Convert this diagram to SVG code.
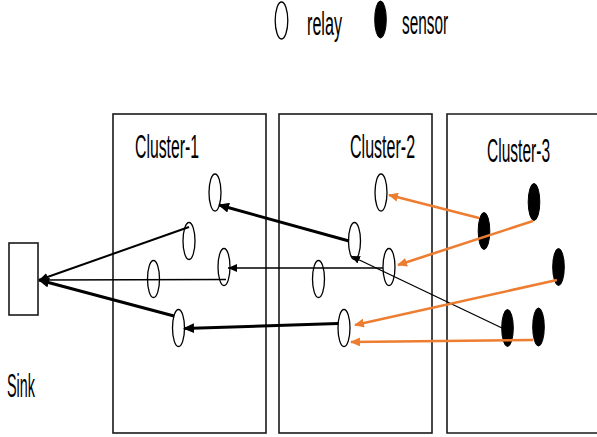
<svg xmlns="http://www.w3.org/2000/svg" width="597" height="437" viewBox="0 0 597 437">
<defs>
<style>
.lbl{font-family:"Liberation Sans",Arial,sans-serif;font-size:33px;fill:#000}
.box{fill:none;stroke:#1a1a1a;stroke-width:1.6}
.relay{fill:#fff;stroke:#000;stroke-width:1.3}
.sensor{fill:#000;stroke:#000;stroke-width:1}
.k3{stroke:#000;stroke-width:3;fill:none}
.k2{stroke:#000;stroke-width:2;fill:none}
.k1{stroke:#000;stroke-width:1.3;fill:none}
.or{stroke:#ED7D31;stroke-width:2.6;fill:none}
</style>
<marker id="ab" markerUnits="userSpaceOnUse" markerWidth="11" markerHeight="10" refX="10" refY="5" orient="auto">
<path d="M0,0 L11,5 L0,10 z" fill="#000"/>
</marker>
<marker id="as" markerUnits="userSpaceOnUse" markerWidth="9" markerHeight="8" refX="9" refY="4" orient="auto">
<path d="M0,0 L9,4 L0,8 z" fill="#000"/>
</marker>
<marker id="ao" markerUnits="userSpaceOnUse" markerWidth="10" markerHeight="9" refX="9" refY="4.5" orient="auto">
<path d="M0,0 L10,4.5 L0,9 z" fill="#ED7D31"/>
</marker>
</defs>
<rect width="597" height="437" fill="#fff"/>

<g id="legend">
<ellipse class="relay" cx="281.5" cy="20.5" rx="6.3" ry="18.5"/>
<text class="lbl" transform="translate(307,35) scale(0.49,1)">relay</text>
<ellipse class="sensor" cx="380.5" cy="19.5" rx="5.8" ry="18.5"/>
<text class="lbl" transform="translate(402,34) scale(0.465,1)">sensor</text>
</g>

<g id="sink">
<rect class="box" x="9" y="243" width="29" height="72"/>
<text class="lbl" transform="translate(7,397) scale(0.436,1)">Sink</text>
</g>

<g id="cluster-1">
<rect class="box" x="113" y="114" width="153" height="319"/>
<text class="lbl" transform="translate(135,158) scale(0.478,1)">Cluster-1</text>
</g>
<g id="cluster-2">
<rect class="box" x="279" y="114" width="153" height="319"/>
<text class="lbl" transform="translate(350,158) scale(0.486,1)">Cluster-2</text>
</g>
<g id="cluster-3">
<path class="box" d="M597,114 H447 V433 H597"/>
<text class="lbl" transform="translate(487,162) scale(0.471,1)">Cluster-3</text>
</g>

<g id="r1a"><ellipse class="relay" cx="215" cy="192.5" rx="6" ry="18.5"/></g>
<g id="r1b"><ellipse class="relay" cx="189" cy="241" rx="6" ry="18.5"/></g>
<g id="r1c"><ellipse class="relay" cx="224" cy="267" rx="6" ry="18.5"/></g>
<g id="r1d"><ellipse class="relay" cx="153.5" cy="279" rx="6" ry="18.5"/></g>
<g id="r1e"><ellipse class="relay" cx="178.5" cy="328" rx="6" ry="18.5"/></g>

<g id="r2a"><ellipse class="relay" cx="381" cy="192.5" rx="6" ry="18.5"/></g>
<g id="r2b"><ellipse class="relay" cx="354.5" cy="241" rx="6" ry="18.5"/></g>
<g id="r2c"><ellipse class="relay" cx="389" cy="267" rx="6" ry="18.5"/></g>
<g id="r2d"><ellipse class="relay" cx="318.5" cy="279" rx="6" ry="18.5"/></g>
<g id="r2e"><ellipse class="relay" cx="344" cy="328" rx="6" ry="18.5"/></g>

<g id="s3a"><ellipse class="sensor" cx="484" cy="231" rx="5.8" ry="18.5"/></g>
<g id="s3b"><ellipse class="sensor" cx="534" cy="202" rx="5.8" ry="18.5"/></g>
<g id="s3c"><ellipse class="sensor" cx="558.5" cy="267" rx="5.8" ry="18.5"/></g>
<g id="s3d"><ellipse class="sensor" cx="507.5" cy="328" rx="5.8" ry="18.5"/></g>
<g id="s3e"><ellipse class="sensor" cx="538.5" cy="327" rx="5.8" ry="19"/></g>

<g id="connectors">
<line class="k3" x1="349" y1="241" x2="219" y2="205" marker-end="url(#ab)"/>
<line class="k1" x1="383" y1="268" x2="228" y2="268" marker-end="url(#as)"/>
<line class="k3" x1="338" y1="323.5" x2="184" y2="328.5" marker-end="url(#ab)"/>
<line class="k1" x1="502" y1="328" x2="351" y2="256" stroke-width="1.7" marker-end="url(#as)"/>
<line class="k2" x1="189" y1="227" x2="39" y2="280" marker-end="url(#as)"/>
<line class="k1" x1="226" y1="279.5" x2="39" y2="280" stroke-width="1.6" marker-end="url(#as)"/>
<line class="k3" x1="174" y1="316" x2="39" y2="280" marker-end="url(#ab)"/>
<line class="or" x1="479" y1="218" x2="389" y2="195" marker-end="url(#ao)"/>
<line class="or" x1="533" y1="221" x2="398" y2="265" marker-end="url(#ao)"/>
<line class="or" x1="557" y1="280" x2="355" y2="325" marker-end="url(#ao)"/>
<line class="or" x1="533" y1="340" x2="351" y2="342" marker-end="url(#ao)"/>
</g>
</svg>
